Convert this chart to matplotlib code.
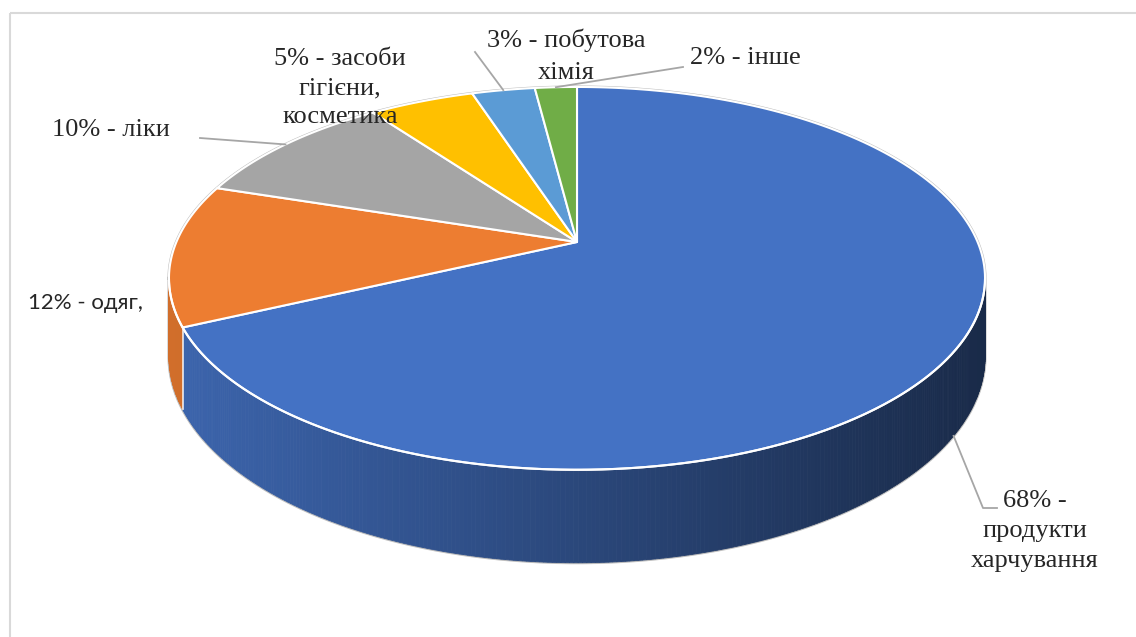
import numpy as np
import matplotlib.pyplot as plt
from matplotlib.patches import Polygon, Rectangle
from matplotlib.colors import to_rgb

# data
shares = [68, 12, 10, 5, 3, 2]
labels = ['68% -\nпродукти\nхарчування', '12% - одяг,', '10% - ліки',
          '5% - засоби\nгігієни,\nкосметика', '3% - побутова\nхімія', '2% - інше']
colors = ['#4472C4', '#ED7D31', '#A5A5A5', '#FFC000', '#5B9BD5', '#70AD47']

# geometry of the 3d pie (pixels)
CX, CY = 577, 242
RX, RY = 400.6, 184.5
K = 0.19      # perspective
DEPTH = 75.3


def proj(theta, z=0.0):
    X = np.sin(theta)
    Y = np.cos(theta)
    w = 1 + K * Y
    return CX + RX * X / w, CY - RY * Y / w + DEPTH * z / w


def shade(color, x):
    # side darkens from left to right
    t = np.clip((x - 175) / (985 - 175), 0, 1)
    f = 0.88 - 0.51 * t
    return tuple(c * f for c in to_rgb(color))


fig = plt.figure(figsize=(11.36, 6.37), dpi=100)
ax = fig.add_axes([0, 0, 1, 1])
ax.set_xlim(0, 1136)
ax.set_ylim(637, 0)
ax.axis('off')

ax.add_patch(Rectangle((9.5, 12.5), 1200, 700, fill=False, ec='#d9d9d9', lw=1.5))

bounds = np.radians(np.concatenate([[0], np.cumsum(shares)]) * 3.6)
vis_a = np.arccos(-K)
vis_b = 2 * np.pi - vis_a

# silhouette shadow line
t_back = np.linspace(vis_b - 2 * np.pi, vis_a, 300)
t_front = np.linspace(vis_a, vis_b, 300)
sx = np.concatenate([proj(t_back)[0], proj(t_front, 1)[0], [proj(vis_b)[0]]])
sy = np.concatenate([proj(t_back)[1], proj(t_front, 1)[1], [proj(vis_b)[1]]])
ax.plot(sx, sy, color='#bdbdbd', lw=2.2, zorder=1)

# side walls
for i, col in enumerate(colors):
    a = max(bounds[i], vis_a)
    b = min(bounds[i + 1], vis_b)
    if a >= b:
        continue
    ts = np.linspace(a, b, int(np.degrees(b - a) * 2) + 2)
    for t0, t1 in zip(ts[:-1], ts[1:]):
        x0, y0 = proj(t0)
        x1, y1 = proj(t1)
        x2, y2 = proj(t1, 1)
        x3, y3 = proj(t0, 1)
        c = shade(col, (x0 + x1) / 2)
        ax.add_patch(Polygon([(x0, y0), (x1, y1), (x2, y2), (x3, y3)],
                             closed=True, fc=c, ec=c, lw=0.6, zorder=2))
    if vis_a < bounds[i] < vis_b:
        xa, ya = proj(bounds[i])
        xb, yb = proj(bounds[i], 1)
        ax.plot([xa, xb], [ya, yb], color='white', lw=1.3, alpha=0.8, zorder=3)

# top faces
for i, col in enumerate(colors):
    ts = np.linspace(bounds[i], bounds[i + 1], 200)
    px, py = proj(ts)
    pts = [(CX, CY)] + list(zip(px, py))
    ax.add_patch(Polygon(pts, closed=True, fc=col, ec='white', lw=1.5,
                         joinstyle='round', zorder=4))

# front rim highlight
px, py = proj(t_front)
ax.plot(px, py, color='white', lw=1.5, zorder=5)

# leader lines
mids = (bounds[:-1] + bounds[1:]) / 2
lc = '#a6a6a6'
x0, y0 = proj(mids[0], 1)
ax.plot([x0, 983, 997], [y0, 508, 508], color=lc, lw=1.3, zorder=6)
x0, y0 = proj(mids[2])
ax.plot([x0, 200], [y0, 138], color=lc, lw=1.3, zorder=6)
x0, y0 = proj(mids[4])
ax.plot([x0, 475], [y0, 52], color=lc, lw=1.3, zorder=6)
x0, y0 = proj(mids[5])
ax.plot([x0, 683], [y0, 67], color=lc, lw=1.3, zorder=6)

# labels
serif = dict(family='Liberation Serif', fontsize=19, color='#262626', zorder=7)
ax.text(1035, 531, labels[0], ha='center', va='center', multialignment='center',
        linespacing=1.46, **serif)
ax.text(28, 303, labels[1], ha='left', va='center', family='Lato', fontsize=16,
        color='#262626', zorder=7)
ax.text(52, 130, labels[2], ha='left', va='center', **serif)
ax.text(340, 88, labels[3], ha='center', va='center', multialignment='center',
        linespacing=1.42, **serif)
ax.text(566, 56, labels[4], ha='center', va='center', multialignment='center',
        linespacing=1.56, **serif)
ax.text(690, 58, labels[5], ha='left', va='center', **serif)

fig.savefig('out.png', dpi=100)
